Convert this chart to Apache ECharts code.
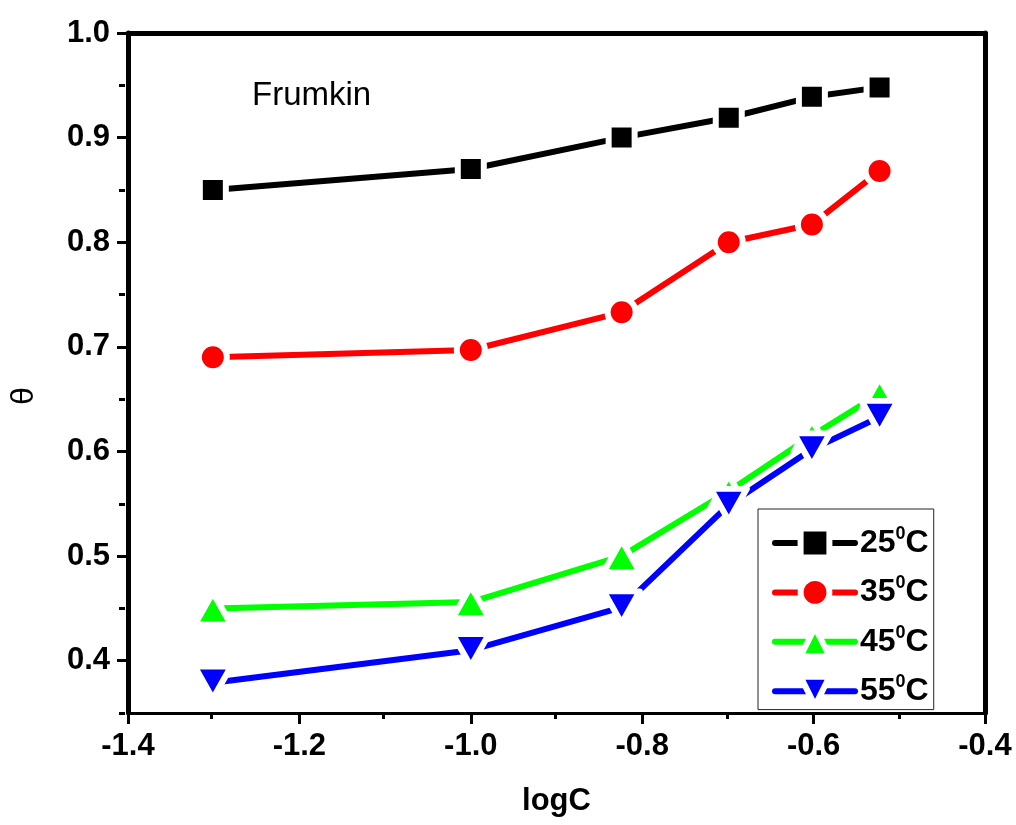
<!DOCTYPE html>
<html>
<head>
<meta charset="utf-8">
<script src="https://cdn.jsdelivr.net/npm/echarts@6/dist/echarts.min.js"></script>
<style>
html,body{margin:0;padding:0;background:#fff;}
#chart{width:1016px;height:825px;}
</style>
</head>
<body>
<div id="chart"></div>
<script>
// ---- data ----
const logC = [-1.301, -1.0, -0.824, -0.699, -0.602, -0.523];
const temps = ['25', '35', '45', '55'];
const theta25 = [0.850, 0.870, 0.900, 0.919, 0.939, 0.948];
const theta35 = [0.690, 0.697, 0.733, 0.800, 0.817, 0.868];
const theta45 = [0.450, 0.456, 0.500, 0.562, 0.615, 0.655];
const theta55 = [0.379, 0.410, 0.451, 0.549, 0.602, 0.633];
const xMajorTicks = [-1.4, -1.2, -1.0, -0.8, -0.6, -0.4];
const xMinorTicks = [-1.3, -1.1, -0.9, -0.7, -0.5];
const yMajorTicks = [0.4, 0.5, 0.6, 0.7, 0.8, 0.9, 1.0];
const yMinorTicks = [0.35, 0.45, 0.55, 0.65, 0.75, 0.85, 0.95];
const annotation = 'Frumkin';

const FONT = '"Liberation Sans", Arial, sans-serif';
const seriesValues = [theta25, theta35, theta45, theta55];
const colors = ['#000000', '#ff0000', '#00ff00', '#0000ff'];
const symbols = ['rect', 'circle', 'triangle', 'triangle'];
const symbolSizes = [26, 28, [36, 32], [36, 32]];
const rotates = [0, 0, 0, 180];

const chart = echarts.init(document.getElementById('chart'), null, {renderer: 'canvas'});

const gridRect = {left: 125, right: 31, top: 33, bottom: 112};

const series = temps.map((t, i) => ({
  name: t,
  type: 'line',
  xAxisIndex: 0,
  yAxisIndex: 0,
  data: logC.map((x, j) => [x, seriesValues[i][j]]),
  symbol: symbols[i],
  symbolSize: symbolSizes[i],
  symbolRotate: rotates[i],
  showAllSymbol: true,
  lineStyle: {color: colors[i], width: 6, cap: 'round', join: 'round'},
  itemStyle: {color: colors[i], borderColor: '#ffffff', borderWidth: 6, borderJoin: 'round', opacity: 1},
  emphasis: {disabled: true},
  animation: false,
  z: 3 + i
}));

const option = {
  animation: false,
  backgroundColor: '#ffffff',
  title: {
    text: annotation,
    left: 247, top: 74,
    textStyle: {fontFamily: FONT, fontSize: 33, fontWeight: 'normal', color: '#000'}
  },
  grid: [
    Object.assign({}, gridRect, {containLabel: false}),
    Object.assign({}, gridRect, {containLabel: false})
  ],
  legend: {
    orient: 'vertical',
    left: 758, top: 509,
    padding: [16, 5, 1, 14],
    itemGap: 14,
    itemWidth: 80,
    itemHeight: 36,
    backgroundColor: '#ffffff',
    borderColor: '#222',
    borderWidth: 1,
    borderRadius: 0,
    data: temps,
    lineStyle: {width: 6, cap: 'round'},
    itemStyle: {borderColor: '#ffffff', borderWidth: 6, borderJoin: 'round'},
    formatter: n => '{a|' + n + '}{b|0}{a|C}',
    textStyle: {
      fontFamily: FONT,
      rich: {
        a: {fontFamily: FONT, fontSize: 32, fontWeight: 'bold', color: '#000', lineHeight: 36},
        b: {fontFamily: FONT, fontSize: 18, fontWeight: 'bold', color: '#000', lineHeight: 36, verticalAlign: 'top', padding: [0, 0, 14, 0]}
      }
    }
  },
  xAxis: [
    {
      type: 'value', gridIndex: 0, position: 'bottom',
      min: -1.4, max: -0.4,
      name: 'logC', nameLocation: 'middle', nameGap: 73,
      nameTextStyle: {fontFamily: FONT, fontSize: 31, fontWeight: 'bold', color: '#000'},
      axisLine: {show: true, onZero: false, lineStyle: {color: '#000', width: 3}},
      axisTick: {show: true, inside: false, length: 11, customValues: xMajorTicks, lineStyle: {color: '#000', width: 3}},
      axisLabel: {show: true, customValues: xMajorTicks, margin: 18, formatter: v => v.toFixed(1),
        fontFamily: FONT, fontSize: 31, fontWeight: 'bold', color: '#000'},
      splitLine: {show: false}
    },
    {
      type: 'value', gridIndex: 0, position: 'top',
      min: -1.4, max: -0.4,
      axisLine: {show: true, onZero: false, lineStyle: {color: '#000', width: 5}},
      axisTick: {show: false}, axisLabel: {show: false}, splitLine: {show: false}
    },
    {
      type: 'value', gridIndex: 1, position: 'bottom',
      min: -1.4, max: -0.4,
      axisLine: {show: false, onZero: false},
      axisTick: {show: true, length: 6, customValues: xMinorTicks, lineStyle: {color: '#000', width: 3}},
      axisLabel: {show: false}, splitLine: {show: false}
    }
  ],
  yAxis: [
    {
      type: 'value', gridIndex: 0, position: 'left',
      min: 0.35, max: 1.0,
      name: 'θ', nameLocation: 'middle', nameGap: 88,
      nameTextStyle: {fontFamily: FONT, fontSize: 32, fontWeight: 'normal', color: '#000', padding: [0, 46, 0, 0]},
      axisLine: {show: true, onZero: false, lineStyle: {color: '#000', width: 5}},
      axisTick: {show: true, length: 11, customValues: yMajorTicks, lineStyle: {color: '#000', width: 3}},
      axisLabel: {show: true, customValues: yMajorTicks, margin: 18, formatter: v => v.toFixed(1),
        fontFamily: FONT, fontSize: 31, fontWeight: 'bold', color: '#000'},
      splitLine: {show: false}
    },
    {
      type: 'value', gridIndex: 0, position: 'right',
      min: 0.35, max: 1.0,
      axisLine: {show: true, onZero: false, lineStyle: {color: '#000', width: 5}},
      axisTick: {show: false}, axisLabel: {show: false}, splitLine: {show: false}
    },
    {
      type: 'value', gridIndex: 1, position: 'left',
      min: 0.35, max: 1.0,
      axisLine: {show: false, onZero: false},
      axisTick: {show: true, length: 6, customValues: yMinorTicks, lineStyle: {color: '#000', width: 3}},
      axisLabel: {show: false}, splitLine: {show: false}
    }
  ],
  series: series
};

chart.setOption(option);
</script>
</body>
</html>
